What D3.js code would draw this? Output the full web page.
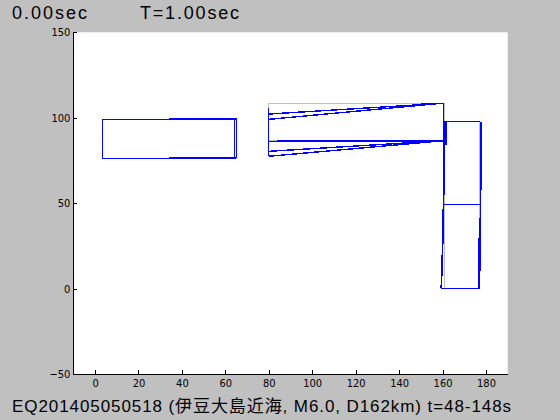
<!DOCTYPE html>
<html>
<head>
<meta charset="utf-8">
<script src="https://cdn.jsdelivr.net/npm/d3@7"></script>
<style>
  body { margin: 0; background: #c0c0c0; }
  .axis text { font-family: "Liberation Sans Narrow", "DejaVu Sans Condensed", sans-serif; font-size: 11px; fill: #000; }
  .axis path, .axis line { stroke: #000; shape-rendering: crispEdges; }
  .title { font-family: "Liberation Sans", "Noto Sans CJK JP", sans-serif; fill: #000; }
</style>
</head>
<body>
<svg id="chart" width="560" height="420"></svg>
<script>
// tick values
var xTicks = [0, 20, 40, 60, 80, 100, 120, 140, 160, 180];
var yTicks = [-50, 0, 50, 100, 150];

var timeLabel = "0.00sec";
var periodLabel = "T=1.00sec";
var caption = "EQ201405050518 (伊豆大島近海, M6.0, D162km) t=48-148s";

// undeformed frame (grey)
var baseFrame = [
  [[3.4, 76.3], [65, 76.3], [65, 98.9], [3.4, 98.9], [3.4, 76.3]],
  [[80, 86.7], [161, 86.7], [161, 108.5], [80, 108.5], [80, 86.7]],
  [[160.8, 0.3], [177.2, 0.3], [177.2, 97.7], [160.8, 97.7], [160.8, 0.3]],
  [[160.8, 49.4], [177.2, 49.4]]
];

// deformed frame (blue)
var deformedFrame = [
  // block 1
  [[3.4, 98.9], [65, 98.9]],
  [[34, 99.7], [65.4, 99.7]],
  [[3.4, 76.3], [65, 76.3]],
  [[34, 76.9], [65.4, 76.9]],
  [[3.4, 76.3], [3.4, 98.9]],
  [[64.1, 76.3], [64.1, 99.7]],
  [[65.1, 76.3], [65.1, 99.7]],
  // block 2
  [[80, 77.5], [80, 105.5]],
  [[80, 102.2], [160.5, 108.5]],
  [[80, 99.1], [158, 108.3]],
  [[150, 108.5], [160.5, 108.5]],
  [[160.5, 108.5], [160.5, 97.7]],
  [[80, 86.3], [160.4, 86.5]],
  [[80, 80.4], [160.4, 86.6]],
  [[80, 77.5], [159.5, 86.5]],
  // block 3
  [[160.4, 97.7], [177.4, 97.7]],
  [[160.5, 86.5], [160.4, 60], [160.2, 30], [159.8, 10], [159.3, 0.3]],
  [[160.4, 97.7], [160.5, 86.5]],
  [[160.9, 97.7], [160.9, 55]],
  [[161.6, 97.7], [161.6, 84]],
  [[159.5, 20], [159.5, 0.3]],
  [[177.4, 97.7], [177.4, 49.4], [177.1, 0.3]],
  [[177.9, 97.7], [177.9, 58]],
  [[176.6, 30], [176.6, 0.3]],
  [[160.6, 49.4], [177.2, 49.4]],
  [[159.3, 0.3], [177.2, 0.3]]
];

var svg = d3.select("#chart"),
    margin = {top: 32.3, right: 52.3, bottom: 45.7, left: 73.3},
    width = +svg.attr("width") - margin.left - margin.right,
    height = +svg.attr("height") - margin.top - margin.bottom;

var x = d3.scaleLinear().domain([-10, 190]).range([margin.left, margin.left + width]);
var y = d3.scaleLinear().domain([-50, 150]).range([margin.top + height, margin.top]);

svg.append("rect")
    .attr("x", x(-10))
    .attr("y", y(150))
    .attr("width", x(190) - x(-10))
    .attr("height", y(-50) - y(150))
    .attr("fill", "#fff");

var line = d3.line()
    .x(function(d) { return x(d[0]); })
    .y(function(d) { return y(d[1]); });

svg.append("g").selectAll("path")
    .data(baseFrame)
    .enter().append("path")
    .attr("d", line)
    .attr("fill", "none")
    .attr("stroke", "#c0c0c0")
    .attr("stroke-width", 1)
    .attr("shape-rendering", "crispEdges");

svg.append("g").selectAll("path")
    .data(deformedFrame)
    .enter().append("path")
    .attr("d", line)
    .attr("fill", "none")
    .attr("stroke", "#0000ff")
    .attr("stroke-width", 1.4)
    .attr("shape-rendering", "crispEdges");

svg.append("g")
    .attr("class", "axis")
    .attr("transform", "translate(0," + y(-50) + ")")
    .call(d3.axisBottom(x).tickValues(xTicks).tickSizeInner(-4).tickSizeOuter(0).tickPadding(5));

svg.append("g")
    .attr("class", "axis")
    .attr("transform", "translate(" + x(-10) + ",0)")
    .call(d3.axisLeft(y).tickValues(yTicks).tickSizeInner(-4).tickSizeOuter(0).tickPadding(3));

svg.append("text")
    .attr("class", "title")
    .attr("x", 12)
    .attr("y", 19)
    .attr("font-size", 18)
    .attr("textLength", 75)
    .text(timeLabel);

svg.append("text")
    .attr("class", "title")
    .attr("x", 140)
    .attr("y", 19)
    .attr("font-size", 18)
    .attr("textLength", 99)
    .text(periodLabel);

svg.append("text")
    .attr("class", "title")
    .attr("x", 12)
    .attr("y", 412)
    .attr("font-size", 17)
    .attr("textLength", 499)
    .text(caption);
</script>
</body>
</html>
